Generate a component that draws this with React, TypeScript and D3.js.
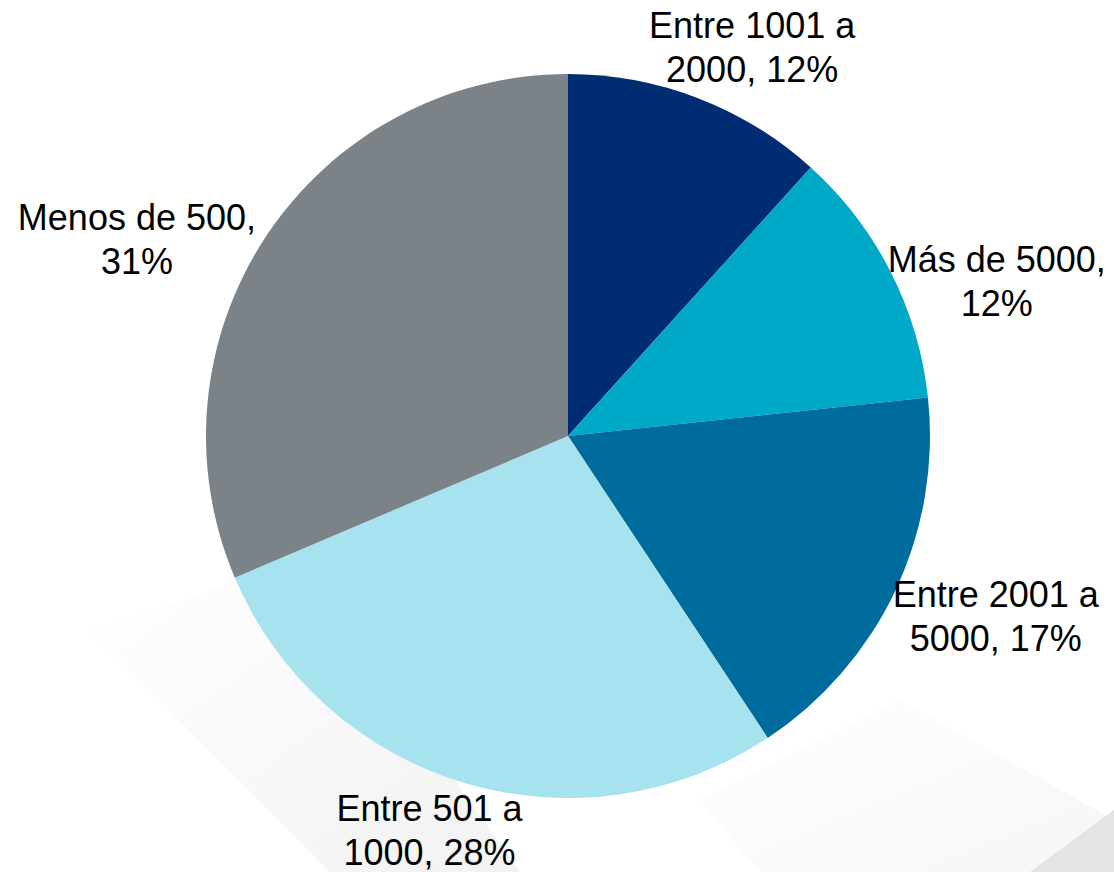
import React, { useEffect, useRef } from 'react';
import * as d3 from 'd3';

// Slice data (clockwise from 12 o'clock)
const categories = ['Entre 1001 a 2000', 'Más de 5000', 'Entre 2001 a 5000', 'Entre 501 a 1000', 'Menos de 500'];
const shares = [11.7, 11.6, 17.4, 27.9, 31.4];
const percentLabels = ['12%', '12%', '17%', '28%', '31%'];
const labelLines = [
  ['Entre 1001 a', '2000, 12%'],
  ['Más de 5000,', '12%'],
  ['Entre 2001 a', '5000, 17%'],
  ['Entre 501 a', '1000, 28%'],
  ['Menos de 500,', '31%'],
];
const colors = ['#002D72', '#00A9C8', '#006C9E', '#A7E2EF', '#7B8288'];

const App: React.FC = () => {
  const svgRef = useRef<SVGSVGElement>(null);

  useEffect(() => {
    document.body.style.margin = '0';
    const width = 1114;
    const height = 872;
    const cx = 568;
    const cy = 436;
    const radius = 362;

    const svg = d3.select(svgRef.current);
    svg.selectAll('*').remove();
    svg.attr('width', width).attr('height', height);

    // faint decorative background shapes
    const defs = svg.append('defs');
    const g1 = defs.append('linearGradient').attr('id', 'bgA').attr('x1', '0').attr('y1', '0').attr('x2', '1').attr('y2', '1');
    g1.append('stop').attr('offset', '0%').attr('stop-color', '#ffffff');
    g1.append('stop').attr('offset', '100%').attr('stop-color', '#efefef');
    const g2 = defs.append('linearGradient').attr('id', 'bgB').attr('x1', '0').attr('y1', '0').attr('x2', '1').attr('y2', '1');
    g2.append('stop').attr('offset', '0%').attr('stop-color', '#ffffff');
    g2.append('stop').attr('offset', '100%').attr('stop-color', '#f6f6f6');

    svg.append('polygon')
      .attr('points', '90,630 300,560 520,872 330,872')
      .attr('fill', 'url(#bgA)')
      .attr('opacity', 0.8);
    svg.append('polygon')
      .attr('points', '700,800 900,700 1114,820 1114,872 760,872')
      .attr('fill', 'url(#bgB)');
    svg.append('polygon')
      .attr('points', '1030,872 1114,810 1114,872')
      .attr('fill', '#e4e4e4');

    const pie = d3.pie<number>().sort(null).value(d => d);
    const arcs = pie(shares);
    const arc = d3.arc<d3.PieArcDatum<number>>().innerRadius(0).outerRadius(radius);

    const g = svg.append('g').attr('transform', `translate(${cx},${cy})`);

    g.selectAll('.slice')
      .data(arcs)
      .enter()
      .append('path')
      .attr('class', 'slice')
      .attr('d', arc)
      .attr('fill', (d, i) => colors[i])
      .append('title')
      .text((d, i) => `${categories[i]}, ${percentLabels[i]}`);

    // label placement: distance from centre and angle nudge per slice (best-fit style)
    const labelDist = [430, 456, 464, 418, 474];
    const angleNudge = [4.3, 7.1, -2.4, 2.6, -8.9];
    const fontSize = 36;
    const lineH = 44;

    arcs.forEach((d, i) => {
      const mid = (d.startAngle + d.endAngle) / 2 + (angleNudge[i] * Math.PI) / 180;
      const x = cx + Math.sin(mid) * labelDist[i];
      const y = cy - Math.cos(mid) * labelDist[i];
      const t = svg.append('text')
        .attr('x', x)
        .attr('y', y)
        .attr('text-anchor', 'middle')
        .attr('font-family', '"Liberation Sans", Arial, sans-serif')
        .attr('font-size', `${fontSize}px`)
        .attr('fill', '#000');
      labelLines[i].forEach((line, j) => {
        t.append('tspan')
          .attr('x', x)
          .attr('y', y - lineH / 2 + j * lineH + fontSize * 0.36)
          .text(line);
      });
    });
  }, []);

  return <svg ref={svgRef} style={{ display: 'block' }}></svg>;
};

export default App;
